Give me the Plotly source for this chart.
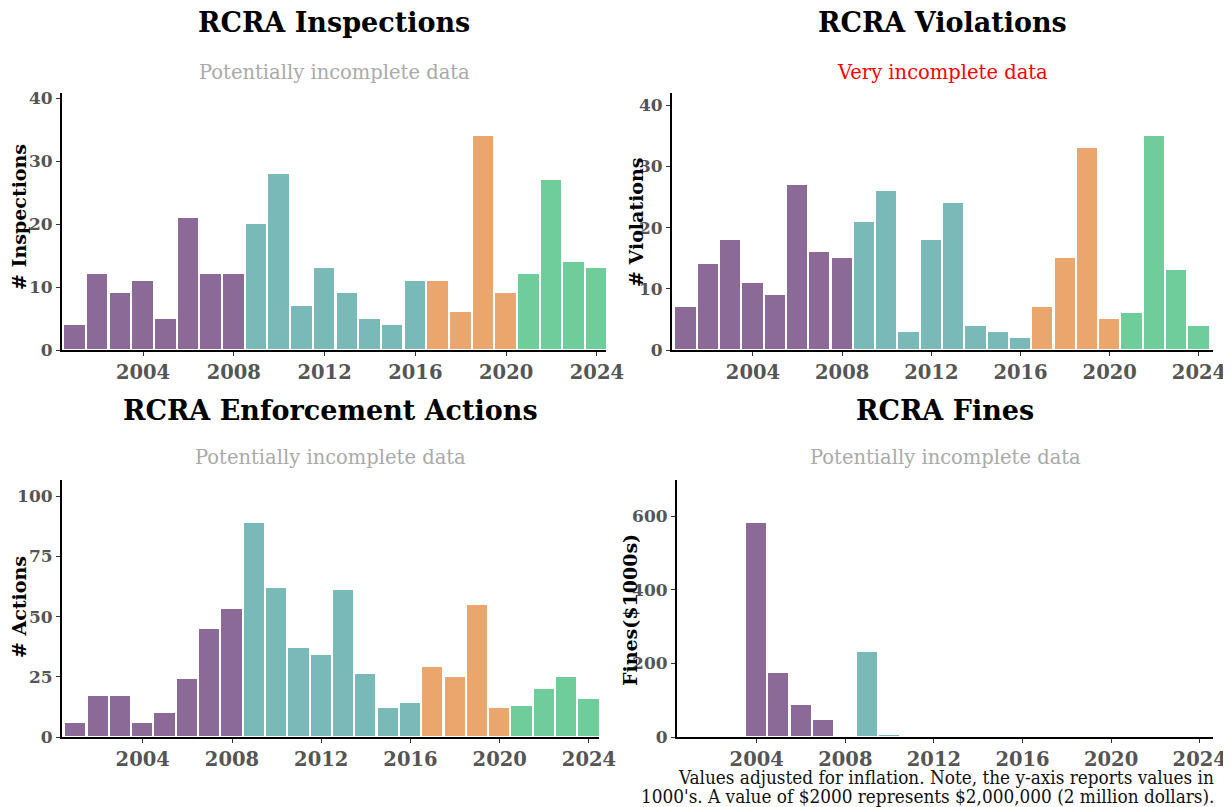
import plotly.graph_objects as go

years = list(range(2001, 2025))
inspections = [4, 12, 9, 11, 5, 21, 12, 12, 20, 28, 7, 13, 9, 5, 4, 11, 11, 6, 34, 9, 12, 27, 14, 13]
violations = [7, 14, 18, 11, 9, 27, 16, 15, 21, 26, 3, 18, 24, 4, 3, 2, 7, 15, 33, 5, 6, 35, 13, 4]
actions = [6, 17, 17, 6, 10, 24, 45, 53, 89, 62, 37, 34, 61, 26, 12, 14, 29, 25, 55, 12, 13, 20, 25, 16]
fines = [0, 0, 0, 582, 175, 86, 47, 0, 230, 6, 0, 0, 0, 0, 0, 0, 0, 0, 0, 0, 0, 0, 0, 0]

titles = ["RCRA Inspections", "RCRA Violations", "RCRA Enforcement Actions", "RCRA Fines"]
subtitles = ["Potentially incomplete data", "Very incomplete data",
             "Potentially incomplete data", "Potentially incomplete data"]
ylabels = ["# Inspections", "# Violations", "# Actions", "Fines($1000s)"]
x_ticks = [2004, 2008, 2012, 2016, 2020, 2024]
footnote_lines = ["Values adjusted for inflation. Note, the y-axis reports values in",
                  "1000's. A value of $2000 represents $2,000,000 (2 million dollars)."]

PURPLE, TEAL, ORANGE, GREEN = "#8c6a97", "#79b9b8", "#eba66e", "#6ecd9a"


def era_color(y):
    if y <= 2008:
        return PURPLE
    if y <= 2016:
        return TEAL
    if y <= 2020:
        return ORANGE
    return GREEN


colors = [era_color(y) for y in years]

# page body has an 8px margin: figure placed at (8, 8)
OFF = 8
W, H = 1231 - OFF, 807 - OFF
SERIF = "DejaVu Serif"


def px(x):
    return (x - OFF) / W


def py(y):
    return 1 - (y - OFF) / H


# panel geometry in page pixels: (left, right, top, bottom)
panels = [
    (62, 606, 93, 350),
    (672, 1213, 93, 350),
    (62, 599, 480, 737),
    (677, 1213, 480, 737),
]
xranges = [
    [2000.43, 2024.4],
    [2000.37, 2024.63],
    [2000.38, 2024.45],
    [2000.4, 2024.6],
]
series = [inspections, violations, actions, fines]
dticks = [10, 10, 25, 200]
title_y = [22, 22, 410, 410]
sub_y = [72, 72, 458, 458]
sub_colors = ["#aaaaaa", "red", "#aaaaaa", "#aaaaaa"]
ylab_x = [19, 636, 19, 630]
ylab_y = [217, 222, 607, 610]

fig = go.Figure()
layout = dict(
    width=W, height=H,
    margin=dict(l=0, r=0, t=0, b=0, autoexpand=False),
    paper_bgcolor="white", plot_bgcolor="white",
    showlegend=False,
    bargap=0,
    annotations=[],
)

for i, (vals, (l, r, t, b)) in enumerate(zip(series, panels)):
    k = "" if i == 0 else str(i + 1)
    fig.add_trace(go.Bar(
        x=years, y=vals, width=0.95,
        marker=dict(color=colors, line=dict(color="white", width=1)),
        xaxis="x" + k, yaxis="y" + k, hoverinfo="x+y",
    ))
    ymax = max(vals) * 1.2
    layout["xaxis" + k] = dict(
        domain=[px(l), px(r)], anchor="y" + k,
        range=xranges[i],
        tickvals=x_ticks, ticktext=[str(v) for v in x_ticks],
        showgrid=False, zeroline=False,
        showline=True, linecolor="black", linewidth=2,
        ticks="outside", ticklen=4, tickcolor="#333", tickwidth=1,
        ticklabeloverflow="allow",
        tickfont=dict(family=SERIF, size=19.5, color="#555555", weight="bold"),
    )
    layout["yaxis" + k] = dict(
        domain=[py(b), py(t)], anchor="x" + k,
        range=[0, ymax], dtick=dticks[i],
        showgrid=False, zeroline=False,
        showline=True, linecolor="black", linewidth=2,
        ticks="outside", ticklen=4, tickcolor="#333", tickwidth=1,
        ticklabeloverflow="allow",
        tickfont=dict(family=SERIF, size=17, color="#555555", weight="bold"),
    )
    cx = px((l + r) / 2)
    layout["annotations"].append(dict(
        text="<b>" + titles[i] + "</b>", x=cx, y=py(title_y[i]),
        xref="paper", yref="paper", showarrow=False,
        xanchor="center", yanchor="middle",
        font=dict(family=SERIF, size=27, color="black"),
    ))
    layout["annotations"].append(dict(
        text=subtitles[i], x=cx, y=py(sub_y[i]),
        xref="paper", yref="paper", showarrow=False,
        xanchor="center", yanchor="middle",
        font=dict(family=SERIF, size=19.5, color=sub_colors[i]),
    ))
    layout["annotations"].append(dict(
        text="<b>" + ylabels[i] + "</b>", x=px(ylab_x[i]), y=py(ylab_y[i]),
        xref="paper", yref="paper", showarrow=False, textangle=-90,
        xanchor="center", yanchor="middle",
        font=dict(family=SERIF, size=19, color="black"),
    ))

for line, yy in zip(footnote_lines, [777, 796]):
    layout["annotations"].append(dict(
        text=line, x=px(1216), y=py(yy),
        xref="paper", yref="paper", showarrow=False,
        xanchor="right", yanchor="middle", align="right",
        font=dict(family="DejaVu Serif Condensed", size=18.8, color="#111111"),
    ))

fig.update_layout(**layout)
fig.write_html("out.html")
